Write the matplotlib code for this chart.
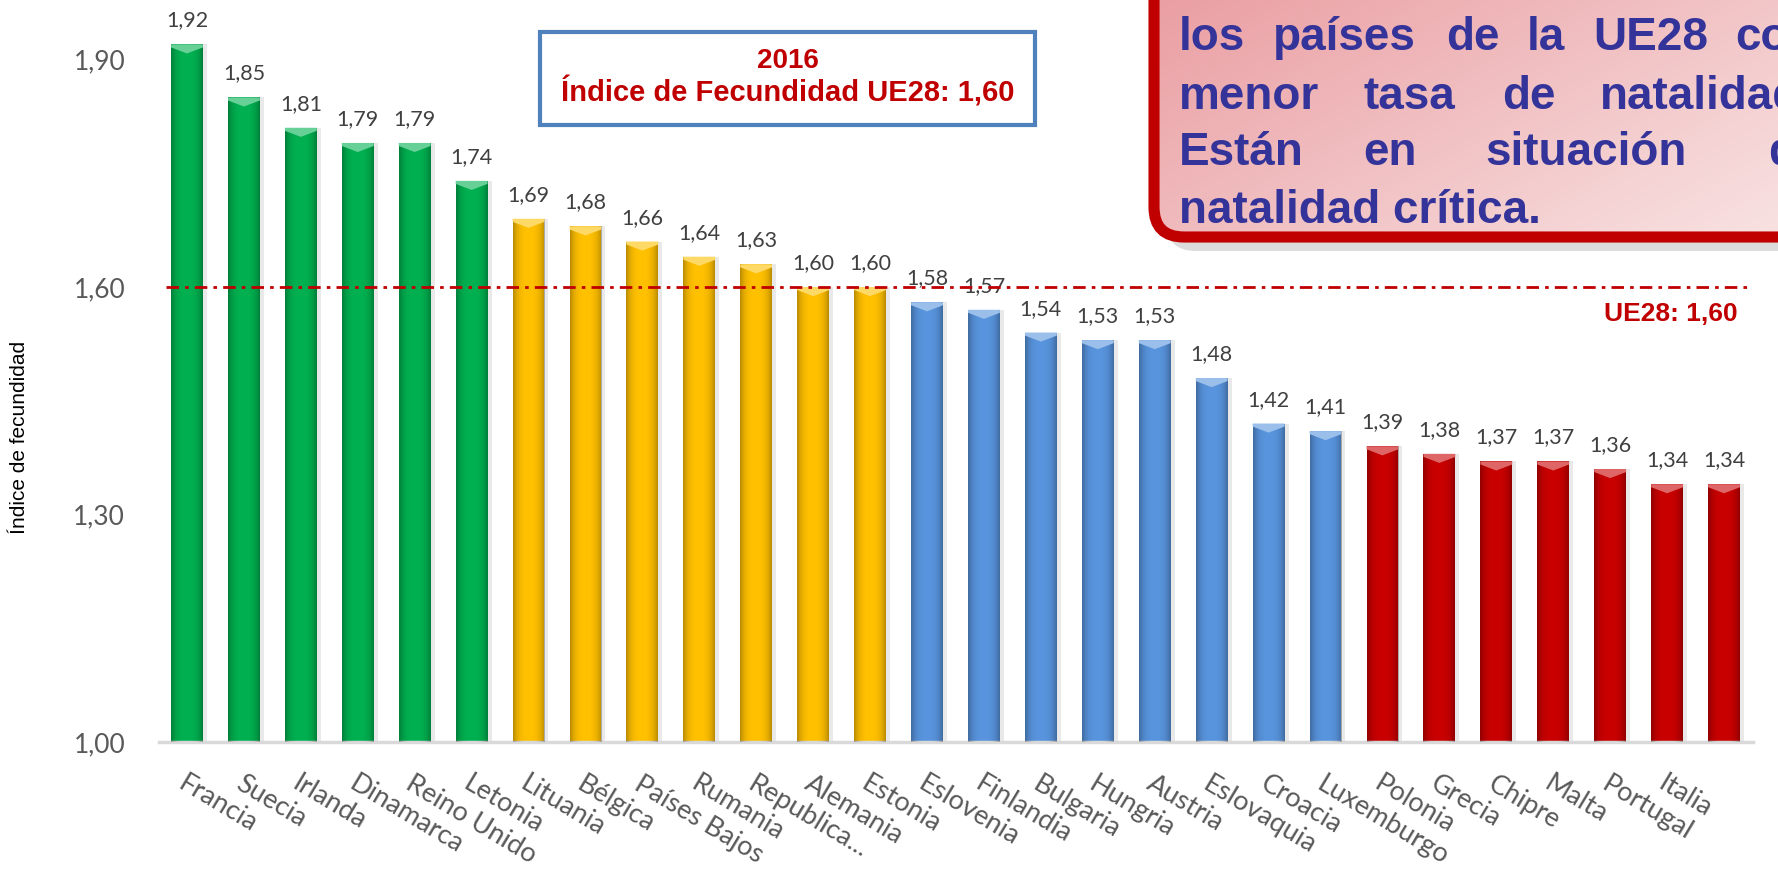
import numpy as np
import matplotlib
matplotlib.use("Agg")
import matplotlib.pyplot as plt
from matplotlib.patches import FancyBboxPatch, Rectangle, Polygon
from matplotlib.colors import to_rgb
from matplotlib import font_manager

# ---------------- data ----------------
countries = ["Francia", "Suecia", "Irlanda", "Dinamarca", "Reino Unido", "Letonia",
             "Lituania", "Bélgica", "Países Bajos", "Rumania", "Republica...", "Alemania", "Estonia",
             "Eslovenia", "Finlandia", "Bulgaria", "Hungria", "Austria", "Eslovaquia", "Croacia", "Luxemburgo",
             "Polonia", "Grecia", "Chipre", "Malta", "Portugal", "Italia", ""]
values = [1.92, 1.85, 1.81, 1.79, 1.79, 1.74,
          1.69, 1.68, 1.66, 1.64, 1.63, 1.60, 1.60,
          1.58, 1.57, 1.54, 1.53, 1.53, 1.48, 1.42, 1.41,
          1.39, 1.38, 1.37, 1.37, 1.36, 1.34, 1.34]
groups = ["alta"] * 6 + ["media"] * 7 + ["baja"] * 8 + ["critica"] * 7
group_colors = {"alta": "#00B050", "media": "#FFC000", "baja": "#5894DD", "critica": "#C80000"}
eu_avg = 1.60
yticks = [1.00, 1.30, 1.60, 1.90]
ytick_labels = ["1,00", "1,30", "1,60", "1,90"]
year = "2016"
box_title = "Índice de Fecundidad UE28: 1,60"
avg_label = "UE28: 1,60"
ylabel = "Índice de fecundidad"
note_lines = [
    ["los", "países", "de", "la", "UE28", "con"],
    ["menor", "tasa", "de", "natalidad."],
    ["Están", "en", "situación", "de"],
    ["natalidad crítica."],
]

def pick(fams):
    for f in fams:
        try:
            font_manager.findfont(font_manager.FontProperties(family=f), fallback_to_default=False)
            return f
        except Exception:
            pass
    return "DejaVu Sans"

f_label = pick(["Lato", "Open Sans", "DejaVu Sans"])
f_arial = pick(["Liberation Sans", "DejaVu Sans"])

W, H = 1778, 872
fig = plt.figure(figsize=(W / 100, H / 100), dpi=100)
fig.patch.set_facecolor("white")

ymin = 1.0
ymax = 1.0 + 742 / 758.3
ax = fig.add_axes([158.5 / W, 130 / H, 1594 / W, 742 / H])
x = np.arange(len(values))
vals = np.array(values)
bw = 0.56
cols = [group_colors[g] for g in groups]

# soft shadow
ax.bar(x + 0.07, vals - ymin, bottom=ymin, width=bw, color="#E9E9E9", zorder=1)
bars = ax.bar(x, vals - ymin, bottom=ymin, width=bw, color=cols, zorder=2)

# edge shading + top bevel
t = np.linspace(-1, 1, 64)
grad = np.zeros((1, 64, 4))
grad[..., 3] = 0.28 * np.abs(t) ** 3
for xi, v, b, c in zip(x, vals, bars, cols):
    im = ax.imshow(grad, extent=(xi - bw / 2, xi + bw / 2, ymin, v), aspect="auto",
                   zorder=3, interpolation="bilinear")
    im.set_clip_path(b)
    light = tuple(0.6 * np.array(to_rgb(c)) + 0.4)
    ax.add_patch(Polygon([(xi - bw / 2, v), (xi + bw / 2, v), (xi + bw / 2, v - 0.004),
                          (xi, v - 0.012), (xi - bw / 2, v - 0.004)],
                         closed=True, facecolor=light, edgecolor="none", zorder=4))
    ax.annotate(f"{v:.2f}".replace(".", ","), (xi, v), xytext=(0, 10), textcoords="offset points",
                ha="center", va="bottom", fontsize=15.5, color="#404040", family=f_label)

ax.set_xlim(-0.5, len(values) - 0.5)
ax.set_ylim(ymin, ymax)

# EU average line
ax.axhline(eu_avg, xmin=0.005, xmax=1.0, color="#C00000", lw=2.0,
           ls=(0, (4.5, 2.2, 1.3, 2.2)), zorder=5)

for s in ["top", "right", "left"]:
    ax.spines[s].set_visible(False)
ax.spines["bottom"].set_color("#D9D9D9")
ax.spines["bottom"].set_linewidth(2.5)
ax.set_yticks(yticks)
ax.set_yticklabels(ytick_labels, fontsize=19, color="#595959", family=f_label)
ax.tick_params(axis="y", length=0, pad=24)
ax.set_xticks(x)
ax.set_xticklabels(countries, rotation=-31, ha="left", va="top", rotation_mode="anchor",
                   fontsize=19.5, color="#595959", family=f_label)
ax.tick_params(axis="x", length=0, pad=21)
ax.patch.set_visible(False)

# ---------------- overlay (pixel coordinates) ----------------
ov = fig.add_axes([0, 0, 1, 1])
ov.axis("off")
ov.patch.set_visible(False)

# y axis title
ov.text(20, 437, ylabel, rotation=90, ha="center", va="center", fontsize=15,
        color="black", family=f_arial)

# title box
ov.add_patch(Rectangle((540, 32), 495, 93, facecolor="white", edgecolor="#4F81BD", lw=3.0))
ov.text(788, 68, year, ha="center", va="baseline", fontsize=20, fontweight="bold",
        color="#C00000", family=f_arial)
ov.text(788, 102, box_title, ha="center", va="baseline", fontsize=21, fontweight="bold",
        color="#C00000", family=f_arial)

# average label
ov.text(1738, 314, avg_label, ha="right", va="center", fontsize=19, fontweight="bold",
        color="#C00000", family=f_arial)

# red note box with shadow and gradient
bx0, by0, bx1, by1 = 1154, -80, 1860, 237
shadow = FancyBboxPatch((bx0 + 12, by0 + 14), bx1 - bx0, by1 - by0,
                        boxstyle="round,pad=0,rounding_size=30", facecolor="#DCDCDC", edgecolor="none",
                        zorder=1)
ov.add_patch(shadow)
gx, gy = np.meshgrid(np.linspace(0, 1, 200), np.linspace(0, 1, 100))
tt = np.clip(0.6 * gx + 0.5 * gy, 0, 1)
c0 = np.array(to_rgb("#E8959A"))
c1 = np.array(to_rgb("#F8E0E0"))
img = c0[None, None, :] * (1 - tt[..., None]) + c1[None, None, :] * tt[..., None]
gim = ov.imshow(img, extent=(bx0, bx1, by1, by0), aspect="auto", zorder=2, interpolation="bilinear")
clip = FancyBboxPatch((bx0, by0), bx1 - bx0, by1 - by0,
                      boxstyle="round,pad=0,rounding_size=30", transform=ov.transData)
gim.set_clip_path(clip)
box = FancyBboxPatch((bx0, by0), bx1 - bx0, by1 - by0,
                     boxstyle="round,pad=0,rounding_size=30", facecolor="none",
                     edgecolor="#C00000", lw=8, zorder=3)
ov.add_patch(box)
ov.set_xlim(0, W)
ov.set_ylim(H, 0)

word_x = [[1179, 1273, 1446, 1527, 1593, 1735],
          [1179, 1364, 1502, 1600],
          [1179, 1363, 1485, 1768],
          [1179]]
baselines = [50, 109, 165, 223]
for words, xs, yb in zip(note_lines, word_x, baselines):
    for w, xx in zip(words, xs):
        ov.text(xx, yb, w, ha="left", va="baseline", fontsize=33, fontweight="bold",
                color="#333399", family=f_arial, zorder=4)

fig.savefig("out.png", dpi=100)
